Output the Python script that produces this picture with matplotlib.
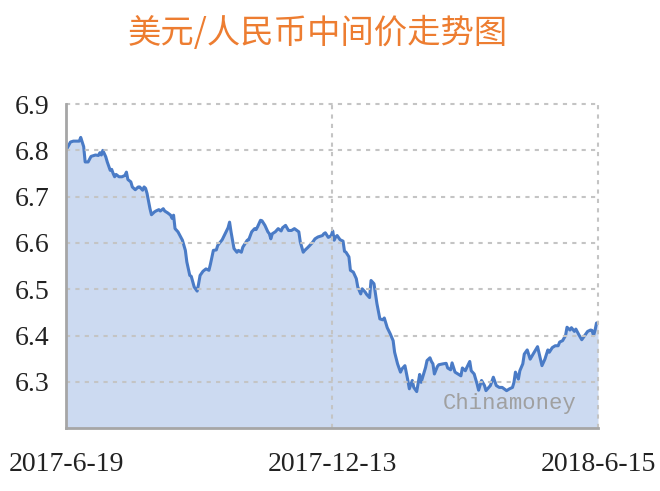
import matplotlib
matplotlib.use("Agg")
import matplotlib.pyplot as plt

# days since 2017-06-19 and USD/CNY central parity
days = [0, 3, 5, 9, 10, 12, 13, 15, 17, 20, 22, 23, 24, 25, 27, 28, 30, 31, 32, 33,
        34, 36, 38, 40, 41, 42, 44, 45, 47, 49, 50, 52, 53, 54, 55, 57, 58, 60, 61, 63,
        64, 66, 67, 69, 71, 72, 73, 74, 76, 79, 81, 82, 84, 85, 87, 89, 90, 91, 93, 95,
        97, 98, 100, 102, 103, 106, 108, 110, 111, 112, 114, 116, 117, 119, 120, 123, 124, 126, 128, 129,
        130, 132, 133, 135, 137, 138, 139, 140, 142, 144, 146, 147, 149, 151, 153, 155, 158, 159, 161, 162,
        164, 167, 169, 171, 174, 175, 176, 178, 180, 181, 182, 183, 184, 186, 188, 189, 190, 192, 193, 195,
        197, 198, 200, 201, 203, 204, 206, 207, 209, 211, 213, 215, 216, 218, 220, 222, 223, 225, 227, 228,
        230, 232, 233, 235, 236, 238, 240, 241, 244, 245, 247, 248, 249, 250, 252, 253, 256, 258, 259, 261,
        262, 264, 266, 268, 269, 271, 272, 274, 275, 277, 279, 280, 282, 284, 285, 288, 290, 292, 294, 296,
        299, 301, 303, 304, 305, 307, 308, 310, 311, 313, 315, 317, 320, 322, 323, 325, 327, 328, 330, 332,
        334, 335, 337, 339, 340, 342, 343, 345, 346, 348, 350, 352, 354, 356, 357, 358, 359, 360, 361]
rate = [6.800, 6.818, 6.820, 6.820, 6.828, 6.808, 6.775, 6.775, 6.787, 6.790, 6.789, 6.795, 6.790, 6.800, 6.786, 6.775, 6.757, 6.759, 6.750, 6.743,
        6.748, 6.743, 6.743, 6.746, 6.753, 6.737, 6.732, 6.721, 6.715, 6.721, 6.721, 6.714, 6.721, 6.718, 6.707, 6.674, 6.661, 6.667, 6.669, 6.672,
        6.669, 6.674, 6.669, 6.665, 6.660, 6.653, 6.660, 6.631, 6.624, 6.606, 6.584, 6.559, 6.530, 6.528, 6.505, 6.496, 6.512, 6.530, 6.539, 6.544,
        6.541, 6.554, 6.584, 6.585, 6.595, 6.607, 6.620, 6.633, 6.645, 6.624, 6.588, 6.580, 6.584, 6.580, 6.591, 6.606, 6.607, 6.624, 6.631, 6.629,
        6.635, 6.649, 6.648, 6.638, 6.624, 6.620, 6.609, 6.620, 6.624, 6.631, 6.626, 6.633, 6.638, 6.627, 6.627, 6.631, 6.624, 6.602, 6.580, 6.584,
        6.590, 6.600, 6.609, 6.613, 6.616, 6.620, 6.622, 6.612, 6.616, 6.626, 6.606, 6.613, 6.616, 6.607, 6.604, 6.582, 6.580, 6.570, 6.541, 6.537,
        6.523, 6.505, 6.490, 6.501, 6.494, 6.489, 6.482, 6.519, 6.512, 6.469, 6.436, 6.434, 6.438, 6.417, 6.404, 6.389, 6.364, 6.339, 6.321, 6.328,
        6.335, 6.303, 6.285, 6.303, 6.288, 6.279, 6.316, 6.299, 6.331, 6.346, 6.352, 6.344, 6.339, 6.317, 6.333, 6.337, 6.339, 6.340, 6.330, 6.326,
        6.341, 6.321, 6.317, 6.313, 6.330, 6.324, 6.331, 6.344, 6.324, 6.317, 6.295, 6.282, 6.303, 6.292, 6.281, 6.292, 6.310, 6.292, 6.288, 6.288,
        6.281, 6.285, 6.288, 6.299, 6.321, 6.306, 6.324, 6.339, 6.360, 6.369, 6.349, 6.360, 6.376, 6.349, 6.335, 6.349, 6.369, 6.364, 6.374, 6.378,
        6.378, 6.386, 6.389, 6.400, 6.418, 6.412, 6.417, 6.409, 6.414, 6.402, 6.391, 6.400, 6.409, 6.412, 6.411, 6.400, 6.411, 6.427, 6.428]

x_ticks = [0, 180.5, 361]
x_labels = ["2017-6-19", "2017-12-13", "2018-6-15"]
y_ticks = [6.3, 6.4, 6.5, 6.6, 6.7, 6.8, 6.9]

fig = plt.figure(figsize=(6.6, 4.91), dpi=100)
ax = fig.add_axes([0.1, 0.128, 0.806, 0.66])

ax.fill_between(days, rate, 6.2, color="#ccdaf1", linewidth=0)
ax.plot(days, rate, color="#4a7bc6", linewidth=2.2)

ax.set_xlim(0, 361)
ax.set_ylim(6.2, 6.9)
ax.set_yticks(y_ticks)
ax.set_yticklabels([f"{v:.1f}" for v in y_ticks])
ax.set_xticks(x_ticks)
ax.set_xticklabels(x_labels)
ax.tick_params(length=0, labelsize=20, colors="#222222")
ax.tick_params(axis="y", pad=12)
ax.tick_params(axis="x", pad=17)
for lbl in ax.get_xticklabels() + ax.get_yticklabels():
    lbl.set_fontfamily("Liberation Serif")

grid_kw = dict(color="#c4c4c4", linewidth=1.5, linestyle=(0, (2, 2.5)))
for v in y_ticks:
    ax.axhline(v, clip_on=False, zorder=3, **grid_kw)
ax.axvline(180.5, zorder=3, **grid_kw)
ax.axvline(361, clip_on=False, zorder=3, **grid_kw)

ax.spines["top"].set_visible(False)
ax.spines["right"].set_visible(False)
for s in ("left", "bottom"):
    ax.spines[s].set_color("#a6a6a6")
    ax.spines[s].set_linewidth(2)
    ax.spines[s].set_zorder(4)

ax.text(0.96, 0.075, "Chinamoney", transform=ax.transAxes, ha="right", va="center",
        fontsize=16, color="#a0a0a0", family="Liberation Mono")

fig.text(0.482, 0.932, "美元/人民币中间价走势图", ha="center", va="center",
         fontsize=24, color="#ed7d31", family=["Noto Sans CJK SC", "DejaVu Sans"])

fig.savefig("out.png", dpi=100)
